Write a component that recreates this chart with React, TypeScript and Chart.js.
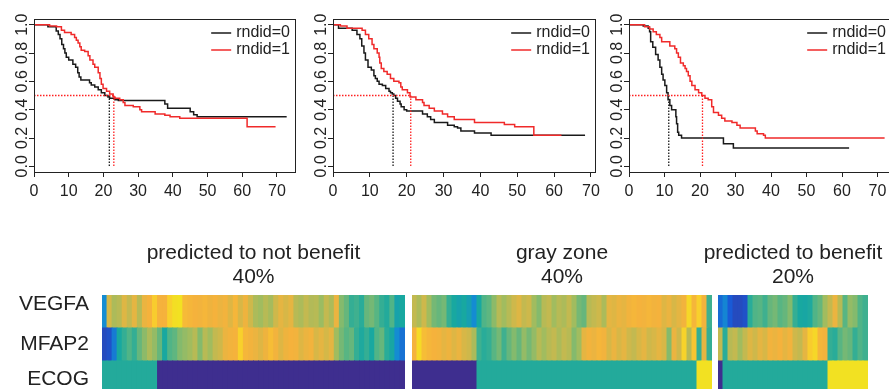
import React, { useEffect, useRef } from 'react';
import { Chart, registerables } from 'chart.js';

Chart.register(...registerables);

const FONT = '"Liberation Sans", Arial, Helvetica, sans-serif';
const INK = '#222222';
const BLACK = '#1a1a1a';
const RED = '#f02a2a';

// ---------- Kaplan-Meier panels ----------
const X_TICKS = [0, 10, 20, 30, 40, 50, 60, 70];
const Y_TICKS = [0, 0.2, 0.4, 0.6, 0.8, 1.0];
const GROUP_LABELS = ['rndid=0', 'rndid=1'];
const GROUP_COLORS = [BLACK, RED];

// Panel 1: predicted to not benefit
const P1_T0 = [0, 4, 6.4, 7, 7.5, 8, 8.5, 8.9, 9.3, 10, 11.2, 12, 12.6, 13, 13.5, 16, 16.5, 17.5, 18.5, 19.4, 20.4, 21.3, 21.8, 23.3, 24.3, 37.7, 38.5, 45, 46, 47, 72.8];
const P1_S0 = [1, 0.985, 0.955, 0.93, 0.9, 0.86, 0.83, 0.8, 0.77, 0.75, 0.72, 0.7, 0.66, 0.63, 0.61, 0.59, 0.575, 0.56, 0.54, 0.52, 0.5, 0.49, 0.48, 0.47, 0.465, 0.44, 0.41, 0.385, 0.365, 0.35, 0.35];
const P1_T1 = [0, 4.5, 6.5, 7.9, 8.8, 10.7, 11.7, 12.2, 12.7, 13.2, 13.6, 14.6, 15.6, 16.1, 17, 17.5, 18.5, 19, 19.4, 19.9, 20.9, 21.8, 22.8, 23.3, 24.7, 25.7, 26.2, 28.6, 30.5, 31, 34.9, 37.7, 39.2, 42, 61.4, 69.6];
const P1_S1 = [1, 0.99, 0.985, 0.96, 0.945, 0.93, 0.91, 0.89, 0.87, 0.845, 0.82, 0.81, 0.78, 0.75, 0.72, 0.7, 0.66, 0.62, 0.58, 0.55, 0.53, 0.51, 0.49, 0.48, 0.47, 0.45, 0.43, 0.42, 0.4, 0.385, 0.37, 0.36, 0.35, 0.34, 0.28, 0.28];
const P1_MEDIANS = [21.7, 23.0];
const P1_XMAX = 75.2;

// Panel 2: gray zone
const P2_T0 = [0, 1.5, 5.2, 6.5, 7.3, 7.8, 8.4, 8.8, 9.5, 10.4, 11.1, 11.5, 12, 12.5, 13.4, 14.3, 15.2, 15.6, 16.1, 16.5, 17, 17.5, 18.2, 18.5, 19.3, 20, 24.3, 25.6, 26.5, 27.5, 31.1, 32.9, 33.8, 34.7, 38.4, 42.9, 68.4];
const P2_S0 = [1, 0.975, 0.96, 0.93, 0.9, 0.85, 0.8, 0.75, 0.7, 0.68, 0.64, 0.62, 0.6, 0.58, 0.57, 0.55, 0.53, 0.52, 0.51, 0.5, 0.48, 0.46, 0.44, 0.42, 0.4, 0.39, 0.37, 0.35, 0.33, 0.31, 0.29, 0.28, 0.27, 0.25, 0.235, 0.22, 0.22];
const P2_T1 = [0, 2, 3.8, 7.9, 8.8, 9.7, 10.6, 11.1, 12, 12.5, 12.7, 13.1, 13.8, 14.7, 15.6, 16.5, 17.9, 18.4, 18.8, 20.2, 20.9, 22.5, 24.3, 24.7, 26.1, 27.5, 29.7, 31.1, 32.9, 38.4, 46.5, 49.3, 54.5, 62];
const P2_S1 = [1, 0.99, 0.975, 0.96, 0.93, 0.9, 0.86, 0.83, 0.8, 0.77, 0.73, 0.69, 0.67, 0.65, 0.62, 0.6, 0.59, 0.56, 0.54, 0.52, 0.49, 0.47, 0.45, 0.43, 0.41, 0.39, 0.37, 0.35, 0.33, 0.31, 0.295, 0.28, 0.22, 0.22];
const P2_MEDIANS = [16.3, 21.1];
const P2_XMAX = 71.1;

// Panel 3: predicted to benefit
const P3_T0 = [0, 4, 5.4, 5.8, 6.1, 6.7, 7.5, 8.2, 8.7, 9.2, 9.6, 10.1, 10.6, 11, 11.5, 12, 13.2, 13.4, 13.7, 14, 14.8, 26.6, 29.4, 62];
const P3_S0 = [1, 0.99, 0.975, 0.95, 0.88, 0.84, 0.79, 0.75, 0.7, 0.65, 0.61, 0.57, 0.52, 0.47, 0.43, 0.4, 0.35, 0.3, 0.24, 0.22, 0.2, 0.16, 0.13, 0.13];
const P3_T1 = [0, 4.4, 5.8, 6.8, 7.7, 8.7, 9.2, 11.5, 12.9, 13.4, 13.9, 14.5, 15.3, 15.8, 16.2, 16.7, 17.2, 17.7, 18.6, 19.6, 20.5, 21.4, 22.3, 23.3, 23.8, 25.2, 26.1, 27, 29, 30.4, 31.3, 35.6, 36.1, 37.9, 38.4, 72];
const P3_S1 = [1, 0.985, 0.97, 0.95, 0.93, 0.91, 0.88, 0.85, 0.83, 0.8, 0.77, 0.73, 0.71, 0.69, 0.67, 0.64, 0.6, 0.57, 0.54, 0.52, 0.5, 0.48, 0.47, 0.42, 0.38, 0.36, 0.34, 0.32, 0.31, 0.29, 0.27, 0.25, 0.23, 0.22, 0.2, 0.2];
const P3_MEDIANS = [11.2, 20.7];
const P3_XMAX = 73.8;

// ---------- Heatmap panels (normalised values, 0..1) ----------
const ROW_NAMES = ['ECOG', 'MFAP2', 'VEGFA'];
const PANEL_TITLES = [
  ['predicted to not benefit', '40%'],
  ['gray zone', '40%'],
  ['predicted to benefit', '20%'],
];

const VEGFA_A = [0.30, 0.75, 0.68, 0.70, 0.78, 0.72, 0.80, 0.70, 0.82, 0.85,
  0.92, 0.85, 0.85, 0.93, 0.97, 0.98, 0.87, 0.86, 0.85, 0.84,
  0.86, 0.83, 0.85, 0.82, 0.84, 0.78, 0.86, 0.76, 0.83, 0.74,
  0.68, 0.66, 0.70, 0.67, 0.74, 0.80, 0.76, 0.80, 0.70, 0.68,
  0.72, 0.69, 0.70, 0.65, 0.72, 0.68, 0.82, 0.62, 0.58, 0.50,
  0.52, 0.48, 0.58, 0.60, 0.56, 0.50, 0.47, 0.55, 0.42, 0.45];
const MFAP2_A = [0.10, 0.12, 0.25, 0.45, 0.50, 0.55, 0.50, 0.58, 0.63, 0.68,
  0.64, 0.58, 0.45, 0.55, 0.57, 0.62, 0.64, 0.66, 0.70, 0.62,
  0.70, 0.66, 0.72, 0.74, 0.82, 0.84, 0.85, 0.93, 0.86, 0.84,
  0.82, 0.78, 0.83, 0.88, 0.84, 0.78, 0.83, 0.85, 0.84, 0.78,
  0.82, 0.84, 0.76, 0.80, 0.75, 0.80, 0.66, 0.60, 0.56, 0.58,
  0.50, 0.46, 0.50, 0.45, 0.55, 0.58, 0.48, 0.44, 0.30, 0.22];
const ECOG_A = [1, 1, 1, 1, 1, 1, 1, 1, 1, 1,
  1, 0, 0, 0, 0, 0, 0, 0, 0, 0,
  0, 0, 0, 0, 0, 0, 0, 0, 0, 0,
  0, 0, 0, 0, 0, 0, 0, 0, 0, 0,
  0, 0, 0, 0, 0, 0, 0, 0, 0, 0,
  0, 0, 0, 0, 0, 0, 0, 0, 0, 0];

const VEGFA_B = [0.72, 0.68, 0.74, 0.66, 0.60, 0.58, 0.60, 0.50, 0.45, 0.42,
  0.45, 0.40, 0.30, 0.45, 0.55, 0.57, 0.63, 0.70, 0.66, 0.70,
  0.74, 0.78, 0.72, 0.74, 0.66, 0.62, 0.70, 0.72, 0.66, 0.70,
  0.68, 0.72, 0.66, 0.60, 0.58, 0.70, 0.72, 0.74, 0.68, 0.80,
  0.78, 0.82, 0.80, 0.84, 0.86, 0.85, 0.84, 0.86, 0.84, 0.85,
  0.78, 0.82, 0.76, 0.80, 0.84, 0.95, 0.86, 0.93, 0.84, 0.52];
const MFAP2_B = [0.85, 0.96, 0.88, 0.86, 0.85, 0.84, 0.80, 0.83, 0.78, 0.82,
  0.76, 0.74, 0.68, 0.52, 0.48, 0.50, 0.56, 0.60, 0.52, 0.58,
  0.62, 0.58, 0.64, 0.60, 0.64, 0.70, 0.66, 0.70, 0.72, 0.68,
  0.72, 0.70, 0.62, 0.66, 0.80, 0.84, 0.82, 0.86, 0.84, 0.76,
  0.82, 0.76, 0.80, 0.74, 0.72, 0.76, 0.80, 0.74, 0.76, 0.80,
  0.76, 0.62, 0.82, 0.74, 0.94, 0.70, 0.90, 0.50, 0.80, 0.50];
const ECOG_B = [0, 0, 0, 0, 0, 0, 0, 0, 0, 0,
  0, 0, 0, 1, 1, 1, 1, 1, 1, 1,
  1, 1, 1, 1, 1, 1, 1, 1, 1, 1,
  1, 1, 1, 1, 1, 1, 1, 1, 1, 1,
  1, 1, 1, 1, 1, 1, 1, 1, 1, 1,
  1, 1, 1, 1, 1, 1, 1, 2, 2, 2];

const VEGFA_C = [0.20, 0.28, 0.15, 0.10, 0.10, 0.12, 0.48, 0.55, 0.56, 0.52,
  0.58, 0.60, 0.56, 0.58, 0.62, 0.50, 0.45, 0.44, 0.46, 0.55,
  0.58, 0.66, 0.72, 0.82, 0.70, 0.56, 0.64, 0.62, 0.55, 0.52];
const MFAP2_C = [0.72, 0.48, 0.70, 0.72, 0.66, 0.72, 0.78, 0.74, 0.80, 0.76,
  0.84, 0.82, 0.85, 0.80, 0.84, 0.74, 0.72, 0.80, 0.92, 0.95,
  0.86, 0.84, 0.50, 0.48, 0.56, 0.60, 0.58, 0.50, 0.55, 0.52];
const ECOG_C = [0, 1, 1, 1, 1, 1, 1, 1, 1, 1,
  1, 1, 1, 1, 1, 1, 1, 1, 1, 1,
  1, 1, 2, 2, 2, 2, 2, 2, 2, 2];

// ECOG categories on the colour scale
const ECOG_LEVELS = [0, 0.47, 0.98];

// label anchor positions on the heatmap row axis (rows span 0..3)
const ROW_LABEL_AT = [0.44, 1.52, 2.72];

// parula-like colour map
const PARULA: [number, number, number, number][] = [
  [0.00, 62, 46, 143],
  [0.15, 25, 90, 214],
  [0.30, 20, 140, 210],
  [0.45, 24, 168, 160],
  [0.55, 80, 180, 135],
  [0.65, 155, 188, 98],
  [0.75, 212, 184, 72],
  [0.85, 245, 178, 60],
  [0.93, 248, 208, 44],
  [1.00, 240, 232, 30],
];
function parula(v: number): string {
  const t = Math.max(0, Math.min(1, v));
  for (let i = 1; i < PARULA.length; i++) {
    const a = PARULA[i - 1];
    const b = PARULA[i];
    if (t <= b[0]) {
      const f = (t - a[0]) / (b[0] - a[0]);
      const c = [1, 2, 3].map((k) => Math.round(a[k] + (b[k] - a[k]) * f));
      return `rgb(${c[0]},${c[1]},${c[2]})`;
    }
  }
  return 'rgb(240,232,30)';
}

// ---------- chart builders ----------
const kmDecor = {
  id: 'kmDecor',
  afterDraw(chart: any) {
    const { ctx, chartArea: a, scales } = chart;
    const y = scales.y;
    ctx.save();
    ctx.strokeStyle = INK;
    ctx.lineWidth = 1;
    ctx.strokeRect(Math.round(a.left) + 0.5, Math.round(a.top) + 0.5, Math.round(a.right - a.left), Math.round(a.bottom - a.top));
    ctx.fillStyle = INK;
    ctx.font = `16px ${FONT}`;
    ctx.textAlign = 'center';
    ctx.textBaseline = 'alphabetic';
    Y_TICKS.forEach((v) => {
      ctx.save();
      ctx.translate(a.left - 7.5, y.getPixelForValue(v));
      ctx.rotate(-Math.PI / 2);
      ctx.fillText(v.toFixed(1), 0, 0);
      ctx.restore();
    });
    ctx.textAlign = 'left';
    ctx.textBaseline = 'middle';
    GROUP_LABELS.forEach((lab, i) => {
      const w = ctx.measureText(lab).width;
      const yy = a.top + 14 + i * 17;
      const tx = a.right - 5 - w;
      ctx.strokeStyle = GROUP_COLORS[i];
      ctx.lineWidth = 1.5;
      ctx.beginPath();
      ctx.moveTo(tx - 25, yy);
      ctx.lineTo(tx - 5, yy);
      ctx.stroke();
      ctx.fillStyle = INK;
      ctx.fillText(lab, tx, yy);
    });
    ctx.restore();
  },
};

const panelTitle = {
  id: 'panelTitle',
  afterDraw(chart: any, _args: any, opts: any) {
    const { ctx, chartArea: a } = chart;
    const cx = (a.left + a.right) / 2;
    ctx.save();
    ctx.fillStyle = INK;
    ctx.font = `21px ${FONT}`;
    ctx.textAlign = 'center';
    ctx.textBaseline = 'alphabetic';
    (opts.lines || []).forEach((ln: string, i: number) => {
      ctx.fillText(ln, cx, a.top - 36 + i * 24);
    });
    ctx.restore();
  },
};

function pts(t: number[], s: number[]) {
  return t.map((x, i) => ({ x, y: s[i] }));
}

function kmConfig(t0: number[], s0: number[], t1: number[], s1: number[], med: number[], xmax: number): any {
  const dotted = { borderWidth: 1.3, borderDash: [1.5, 1.5], pointRadius: 0, fill: false };
  const curve = { borderWidth: 1.5, pointRadius: 0, fill: false, stepped: 'before' };
  return {
    type: 'line',
    data: {
      datasets: [
        { ...dotted, label: 'median', data: [{ x: 0, y: 0.5 }, { x: med[1], y: 0.5 }], borderColor: '#ff2020' },
        { ...dotted, label: 'median0', data: [{ x: med[0], y: 0.5 }, { x: med[0], y: 0 }], borderColor: BLACK },
        { ...dotted, label: 'median1', data: [{ x: med[1], y: 0.5 }, { x: med[1], y: 0 }], borderColor: '#ff2020' },
        { ...curve, label: GROUP_LABELS[1], data: pts(t1, s1), borderColor: RED },
        { ...curve, label: GROUP_LABELS[0], data: pts(t0, s0), borderColor: BLACK },
      ],
    },
    options: {
      animation: false,
      responsive: false,
      devicePixelRatio: 1,
      events: [],
      layout: { padding: { left: 0, top: 19, right: 15, bottom: 0 } },
      plugins: { legend: { display: false }, tooltip: { enabled: false }, title: { display: false } },
      scales: {
        x: {
          type: 'linear',
          min: 0,
          max: xmax,
          afterBuildTicks: (s: any) => { s.ticks = X_TICKS.map((v) => ({ value: v })); },
          afterFit: (s: any) => { s.height = 28; },
          ticks: { font: { size: 16, family: FONT }, color: INK, padding: 5, maxRotation: 0, autoSkip: false },
          grid: { drawOnChartArea: false, drawTicks: true, tickLength: 5, color: INK, tickColor: INK },
          border: { display: true, color: INK },
        },
        y: {
          type: 'linear',
          min: -0.04,
          max: 1.04,
          afterBuildTicks: (s: any) => { s.ticks = Y_TICKS.map((v) => ({ value: v })); },
          afterFit: (s: any) => { s.width = 34; },
          ticks: { display: false },
          grid: { drawOnChartArea: false, drawTicks: true, tickLength: 5, color: INK, tickColor: INK },
          border: { display: true, color: INK },
        },
      },
    },
    plugins: [kmDecor],
  };
}

function heatConfig(vegfa: number[], mfap2: number[], ecog: number[], title: string[], withLabels: boolean, padL: number, padR: number): any {
  const ones = vegfa.map(() => 1);
  const bar = { borderWidth: 0, inflateAmount: 0.5, barPercentage: 1, categoryPercentage: 1 };
  const yScale: any = {
    stacked: true,
    min: 0,
    max: 3,
    display: withLabels,
    grid: { display: false, drawTicks: false },
    border: { display: false },
  };
  if (withLabels) {
    yScale.afterBuildTicks = (s: any) => { s.ticks = ROW_LABEL_AT.map((v) => ({ value: v })); };
    yScale.afterFit = (s: any) => { s.width = 102; s.paddingTop = 0; s.paddingBottom = 0; };
    yScale.ticks = {
      callback: (_v: any, i: number) => ROW_NAMES[i],
      font: { size: 21, family: FONT },
      color: INK,
      padding: 13,
    };
  }
  return {
    type: 'bar',
    data: {
      labels: vegfa.map((_, i) => String(i)),
      datasets: [
        { ...bar, label: ROW_NAMES[0], data: ones, backgroundColor: ecog.map((v) => parula(ECOG_LEVELS[v])) },
        { ...bar, label: ROW_NAMES[1], data: ones, backgroundColor: mfap2.map(parula) },
        { ...bar, label: ROW_NAMES[2], data: ones, backgroundColor: vegfa.map(parula) },
      ],
    },
    options: {
      animation: false,
      responsive: false,
      devicePixelRatio: 1,
      events: [],
      layout: { padding: { top: 65, bottom: 0, left: padL, right: padR } },
      plugins: {
        legend: { display: false },
        tooltip: { enabled: false },
        title: { display: false },
        panelTitle: { lines: title },
      },
      scales: {
        x: { stacked: true, display: false },
        y: yScale,
      },
    },
    plugins: [panelTitle],
  };
}

function ChartCanvas({ make, left, top, width, height }: { make: () => any; left: number; top: number; width: number; height: number }) {
  const ref = useRef<HTMLCanvasElement | null>(null);
  useEffect(() => {
    if (!ref.current) return;
    const chart = new Chart(ref.current, make());
    return () => chart.destroy();
  }, []);
  return (
    <canvas
      ref={ref}
      width={width}
      height={height}
      style={{ position: 'absolute', left, top, width, height }}
    />
  );
}

export default function App() {
  return (
    <div style={{ position: 'fixed', left: 0, top: 0, width: 889, height: 389, overflow: 'hidden', background: '#ffffff' }}>
      <ChartCanvas make={() => kmConfig(P1_T0, P1_S0, P1_T1, P1_S1, P1_MEDIANS, P1_XMAX)} left={0} top={0} width={310} height={200} />
      <ChartCanvas make={() => kmConfig(P2_T0, P2_S0, P2_T1, P2_S1, P2_MEDIANS, P2_XMAX)} left={299} top={0} width={311} height={200} />
      <ChartCanvas make={() => kmConfig(P3_T0, P3_S0, P3_T1, P3_S1, P3_MEDIANS, P3_XMAX)} left={595} top={0} width={311} height={200} />
      <ChartCanvas make={() => heatConfig(VEGFA_A, MFAP2_A, ECOG_A, PANEL_TITLES[0], true, 0, 0)} left={0} top={230} width={405} height={164} />
      <ChartCanvas make={() => heatConfig(VEGFA_B, MFAP2_B, ECOG_B, PANEL_TITLES[1], false, 0, 0)} left={412} top={230} width={300} height={164} />
      <ChartCanvas make={() => heatConfig(VEGFA_C, MFAP2_C, ECOG_C, PANEL_TITLES[2], false, 25, 21)} left={693} top={230} width={196} height={164} />
    </div>
  );
}
